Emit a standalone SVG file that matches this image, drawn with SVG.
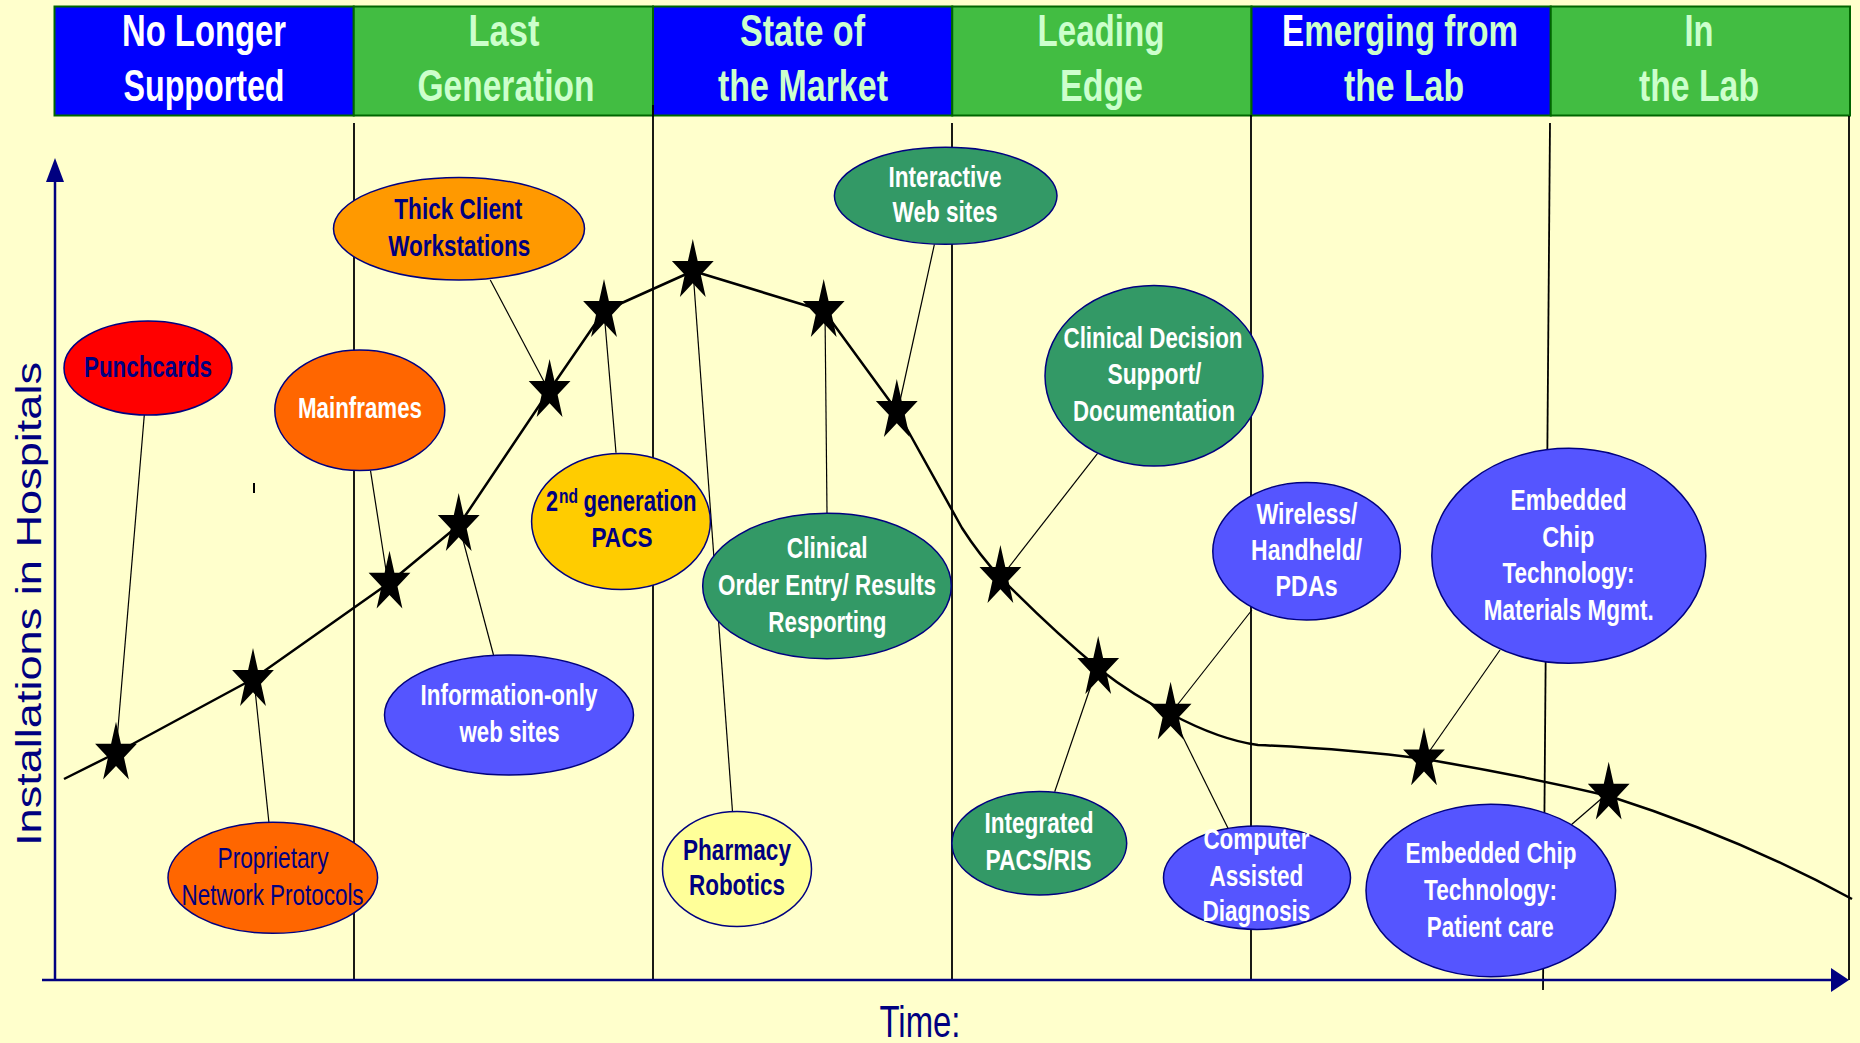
<svg xmlns="http://www.w3.org/2000/svg" xmlns:xlink="http://www.w3.org/1999/xlink" width="1860" height="1043" viewBox="0 0 1860 1043">
<defs>
<style>
.hc{stroke:#006600;stroke-width:2}
.hb{fill:#0000FF}
.hg{fill:#42BD42}
.ht{font-family:"Liberation Sans Narrow","Liberation Sans",Arial,sans-serif;font-weight:bold;font-size:44px;text-anchor:middle;fill:#CCFFCC}
.lb{font-family:"Liberation Sans Narrow","Liberation Sans",Arial,sans-serif;font-weight:bold;font-size:30px;text-anchor:middle}
.lr{font-family:"Liberation Sans Narrow","Liberation Sans",Arial,sans-serif;font-weight:normal;font-size:30px;text-anchor:middle}
.w{fill:#FFFFFF}
.n{fill:#000080}
.el{stroke:#000080;stroke-width:1.5}
.div{stroke:#000000;stroke-width:1.8;fill:none}
.ax{stroke:#000080;stroke-width:2.5;fill:none}
.con{stroke:#000000;stroke-width:1.2;fill:none}
.crv{stroke:#000000;stroke-width:2.5;fill:none;stroke-linejoin:round}
</style>
<path id="star" d="M0,-32 L4.9,-9.9 L20.9,-9.9 L8,3.8 L12.9,25.9 L0,12.2 L-12.9,25.9 L-8,3.8 L-20.9,-9.9 L-4.9,-9.9 Z" fill="#000000"/>
</defs>
<rect x="0" y="0" width="1860" height="1043" fill="#FFFFCC"/>

<g id="header">
<rect class="hc hb" x="54.5" y="6.5" width="299.25" height="109"/>
<rect class="hc hg" x="353.75" y="6.5" width="299.25" height="109"/>
<rect class="hc hb" x="653" y="6.5" width="299.25" height="109"/>
<rect class="hc hg" x="952.25" y="6.5" width="299.25" height="109"/>
<rect class="hc hb" x="1251.5" y="6.5" width="299.25" height="109"/>
<rect class="hc hg" x="1550.75" y="6.5" width="299.25" height="109"/>
<text class="ht" x="204" y="46" textLength="164" lengthAdjust="spacingAndGlyphs" style="fill:#FFFFFF">No Longer</text>
<text class="ht" x="204" y="101" textLength="161" lengthAdjust="spacingAndGlyphs" style="fill:#FFFFFF">Supported</text>
<text class="ht" x="504" y="46" textLength="71" lengthAdjust="spacingAndGlyphs">Last</text>
<text class="ht" x="506" y="101" textLength="177" lengthAdjust="spacingAndGlyphs">Generation</text>
<text class="ht" x="802.5" y="46" textLength="125" lengthAdjust="spacingAndGlyphs">State of</text>
<text class="ht" x="803" y="101" textLength="170" lengthAdjust="spacingAndGlyphs">the Market</text>
<text class="ht" x="1101" y="46" textLength="127" lengthAdjust="spacingAndGlyphs">Leading</text>
<text class="ht" x="1101.5" y="101" textLength="83" lengthAdjust="spacingAndGlyphs">Edge</text>
<text class="ht" x="1400" y="46" textLength="236" lengthAdjust="spacingAndGlyphs"><tspan style="fill:#FFFFFF">E</tspan>merging from</text>
<text class="ht" x="1404" y="101" textLength="120" lengthAdjust="spacingAndGlyphs">the Lab</text>
<text class="ht" x="1699" y="46" textLength="29" lengthAdjust="spacingAndGlyphs">In</text>
<text class="ht" x="1699" y="101" textLength="120" lengthAdjust="spacingAndGlyphs">the Lab</text>
</g>

<g id="dividers">
<line class="div" x1="354" y1="123" x2="354" y2="980"/>
<line class="div" x1="653" y1="105" x2="653" y2="980"/>
<line class="div" x1="952" y1="123" x2="952" y2="980"/>
<line class="div" x1="1251" y1="115" x2="1251" y2="980"/>
<line class="div" x1="1550" y1="123" x2="1543" y2="990"/>
<line class="div" x1="1849" y1="116" x2="1849" y2="980"/>
<line x1="254" y1="483" x2="254" y2="493" stroke="#000000" stroke-width="2"/>
</g>

<g id="axes">
<line class="ax" x1="55" y1="178" x2="55" y2="980"/>
<polygon points="55,158 46,182 64,182" fill="#000080"/>
<line class="ax" x1="42" y1="980" x2="1833" y2="980"/>
<polygon points="1849,980 1831,968 1831,992" fill="#000080"/>
<text transform="translate(40.5,846) rotate(-90)" x="0" y="0" textLength="484" lengthAdjust="spacingAndGlyphs" style="font-family:'Liberation Sans',Arial,sans-serif;font-size:35px;fill:#000080">Installations in Hospitals</text>
<text x="920" y="1036.7" textLength="81" lengthAdjust="spacingAndGlyphs" style="font-family:'Liberation Sans Narrow','Liberation Sans',Arial,sans-serif;font-size:45px;fill:#000080;text-anchor:middle">Time:</text>
</g>

<g id="curve">
<path class="crv" d="M64,779 L116,753 L253,679 L389,583 L459,525 L549,391 L604,311 L693,271 L824,311 L897,411 L962,528 Q980,556 1000,577 Q1050,628 1098,668 Q1135,697 1171,714 Q1220,740 1258,745 Q1350,749 1424,759 Q1520,775 1609,796 Q1740,838 1852,899"/>
</g>

<g id="connectors">
<line class="con" x1="144.3" y1="415" x2="117" y2="740"/>
<line class="con" x1="268.9" y1="822.3" x2="254" y2="680"/>
<line class="con" x1="370.5" y1="470.7" x2="388" y2="583"/>
<line class="con" x1="493.5" y1="655" x2="459" y2="525"/>
<line class="con" x1="490.3" y1="280" x2="549" y2="391"/>
<line class="con" x1="616" y1="452.7" x2="604" y2="311"/>
<line class="con" x1="732.5" y1="811.7" x2="693" y2="271"/>
<line class="con" x1="827" y1="513" x2="825" y2="311"/>
<line class="con" x1="934.4" y1="244.3" x2="898" y2="410"/>
<line class="con" x1="1097.6" y1="453.3" x2="1002" y2="576"/>
<line class="con" x1="1054.7" y1="791.7" x2="1097" y2="668"/>
<line class="con" x1="1251.9" y1="610" x2="1171" y2="713"/>
<line class="con" x1="1228" y1="828.3" x2="1171" y2="713"/>
<line class="con" x1="1500" y1="650" x2="1424" y2="759"/>
<line class="con" x1="1571" y1="825" x2="1608" y2="793"/>
</g>

<g id="n-punchcards">
<ellipse class="el" cx="148" cy="368" rx="84" ry="47" fill="#FF0000"/>
<text class="lb n" x="148" y="376.7" textLength="128" lengthAdjust="spacingAndGlyphs">Punchcards</text>
</g>
<g id="n-thickclient">
<ellipse class="el" cx="459" cy="228.7" rx="125.5" ry="51.3" fill="#FF9900"/>
<text class="lb n" x="458.3" y="219.3" textLength="128" lengthAdjust="spacingAndGlyphs">Thick Client</text>
<text class="lb n" x="459.2" y="256" textLength="142" lengthAdjust="spacingAndGlyphs">Workstations</text>
</g>
<g id="n-mainframes">
<ellipse class="el" cx="359.8" cy="410.3" rx="85" ry="60.3" fill="#FF6600"/>
<text class="lb w" x="360" y="418.3" textLength="124" lengthAdjust="spacingAndGlyphs">Mainframes</text>
</g>
<g id="n-pacs2">
<ellipse class="el" cx="621" cy="521.5" rx="89.4" ry="68" fill="#FFCC00"/>
<text class="lb n" x="546" y="511" style="text-anchor:start" textLength="12" lengthAdjust="spacingAndGlyphs">2</text>
<text class="lb n" x="559" y="503.3" style="text-anchor:start;font-size:20px" textLength="19" lengthAdjust="spacingAndGlyphs">nd</text>
<text class="lb n" x="583.5" y="511" style="text-anchor:start" textLength="113" lengthAdjust="spacingAndGlyphs">generation</text>
<text class="lb n" x="622" y="547" style="font-size:28px" textLength="61" lengthAdjust="spacingAndGlyphs">PACS</text>
</g>
<g id="n-infoweb">
<ellipse class="el" cx="509" cy="715" rx="124.5" ry="60" fill="#5555FF"/>
<text class="lb w" x="509" y="705" textLength="177" lengthAdjust="spacingAndGlyphs">Information-only</text>
<text class="lb w" x="509.6" y="741.7" textLength="100" lengthAdjust="spacingAndGlyphs">web sites</text>
</g>
<g id="n-proprietary">
<ellipse class="el" cx="272.8" cy="877.8" rx="104.8" ry="55.5" fill="#FF6600"/>
<text class="lr n" x="273" y="868.3" textLength="111" lengthAdjust="spacingAndGlyphs">Proprietary</text>
<text class="lr n" x="272.6" y="905" textLength="182" lengthAdjust="spacingAndGlyphs">Network Protocols</text>
</g>
<g id="n-pharmacy">
<ellipse class="el" cx="737" cy="869" rx="74.5" ry="57.5" fill="#FFFF99"/>
<text class="lb n" x="737" y="860" textLength="108" lengthAdjust="spacingAndGlyphs">Pharmacy</text>
<text class="lb n" x="737" y="895" textLength="96" lengthAdjust="spacingAndGlyphs">Robotics</text>
</g>
<g id="n-cpoe">
<ellipse class="el" cx="827" cy="586" rx="124.3" ry="72.8" fill="#339966"/>
<text class="lb w" x="827.2" y="558.3" textLength="81" lengthAdjust="spacingAndGlyphs">Clinical</text>
<text class="lb w" x="827" y="595" textLength="218" lengthAdjust="spacingAndGlyphs">Order Entry/ Results</text>
<text class="lb w" x="827.3" y="631.7" textLength="118" lengthAdjust="spacingAndGlyphs">Resporting</text>
</g>
<g id="n-interactive">
<ellipse class="el" cx="945.7" cy="195.8" rx="111.3" ry="48.5" fill="#339966"/>
<text class="lb w" x="945" y="186.7" textLength="113" lengthAdjust="spacingAndGlyphs">Interactive</text>
<text class="lb w" x="945" y="221.7" textLength="105" lengthAdjust="spacingAndGlyphs">Web sites</text>
</g>
<g id="n-cds">
<ellipse class="el" cx="1154" cy="375.8" rx="109" ry="90.2" fill="#339966"/>
<text class="lb w" x="1153" y="348.3" textLength="179" lengthAdjust="spacingAndGlyphs">Clinical Decision</text>
<text class="lb w" x="1154.4" y="384" textLength="94" lengthAdjust="spacingAndGlyphs">Support/</text>
<text class="lb w" x="1154" y="421" textLength="162" lengthAdjust="spacingAndGlyphs">Documentation</text>
</g>
<g id="n-pacsris">
<ellipse class="el" cx="1039.3" cy="843.3" rx="87.4" ry="51.7" fill="#339966"/>
<text class="lb w" x="1039" y="833.3" textLength="109" lengthAdjust="spacingAndGlyphs">Integrated</text>
<text class="lb w" x="1038.5" y="870" textLength="106" lengthAdjust="spacingAndGlyphs">PACS/RIS</text>
</g>
<g id="n-wireless">
<ellipse class="el" cx="1306.6" cy="551.3" rx="93.8" ry="68.7" fill="#5555FF"/>
<text class="lb w" x="1307" y="524.3" textLength="101" lengthAdjust="spacingAndGlyphs">Wireless/</text>
<text class="lb w" x="1306.6" y="560" textLength="111" lengthAdjust="spacingAndGlyphs">Handheld/</text>
<text class="lb w" x="1306.6" y="596" textLength="62" lengthAdjust="spacingAndGlyphs">PDAs</text>
</g>
<g id="n-materials">
<ellipse class="el" cx="1568.8" cy="555.8" rx="137" ry="107.5" fill="#5555FF"/>
<text class="lb w" x="1568.5" y="510" textLength="116" lengthAdjust="spacingAndGlyphs">Embedded</text>
<text class="lb w" x="1568.2" y="546.7" textLength="52" lengthAdjust="spacingAndGlyphs">Chip</text>
<text class="lb w" x="1568.5" y="582.7" textLength="132" lengthAdjust="spacingAndGlyphs">Technology:</text>
<text class="lb w" x="1568.8" y="620" textLength="170" lengthAdjust="spacingAndGlyphs">Materials Mgmt.</text>
</g>
<g id="n-cad">
<ellipse class="el" cx="1257" cy="877.7" rx="93.5" ry="51.7" fill="#5555FF"/>
<text class="lb w" x="1256.4" y="849.3" textLength="106" lengthAdjust="spacingAndGlyphs">Computer</text>
<text class="lb w" x="1256.4" y="886" textLength="94" lengthAdjust="spacingAndGlyphs">Assisted</text>
<text class="lb w" x="1256.4" y="920.7" textLength="108" lengthAdjust="spacingAndGlyphs">Diagnosis</text>
</g>
<g id="n-patientcare">
<ellipse class="el" cx="1490.8" cy="890.5" rx="124.8" ry="86.2" fill="#5555FF"/>
<text class="lb w" x="1491" y="863.3" textLength="171" lengthAdjust="spacingAndGlyphs">Embedded Chip</text>
<text class="lb w" x="1490.5" y="900" textLength="133" lengthAdjust="spacingAndGlyphs">Technology:</text>
<text class="lb w" x="1490.3" y="936.7" textLength="127" lengthAdjust="spacingAndGlyphs">Patient care</text>
</g>

<g id="stars">
<use xlink:href="#star" x="116" y="753.7"/>
<use xlink:href="#star" x="253" y="680"/>
<use xlink:href="#star" x="389.5" y="582.7"/>
<use xlink:href="#star" x="458.7" y="525"/>
<use xlink:href="#star" x="549.6" y="391"/>
<use xlink:href="#star" x="604" y="311"/>
<use xlink:href="#star" x="692.8" y="271"/>
<use xlink:href="#star" x="823.7" y="311"/>
<use xlink:href="#star" x="896.8" y="411"/>
<use xlink:href="#star" x="1000.4" y="577"/>
<use xlink:href="#star" x="1098.2" y="668"/>
<use xlink:href="#star" x="1170.6" y="713.7"/>
<use xlink:href="#star" x="1424" y="759.3"/>
<use xlink:href="#star" x="1608.7" y="793.7"/>
</g>
</svg>
